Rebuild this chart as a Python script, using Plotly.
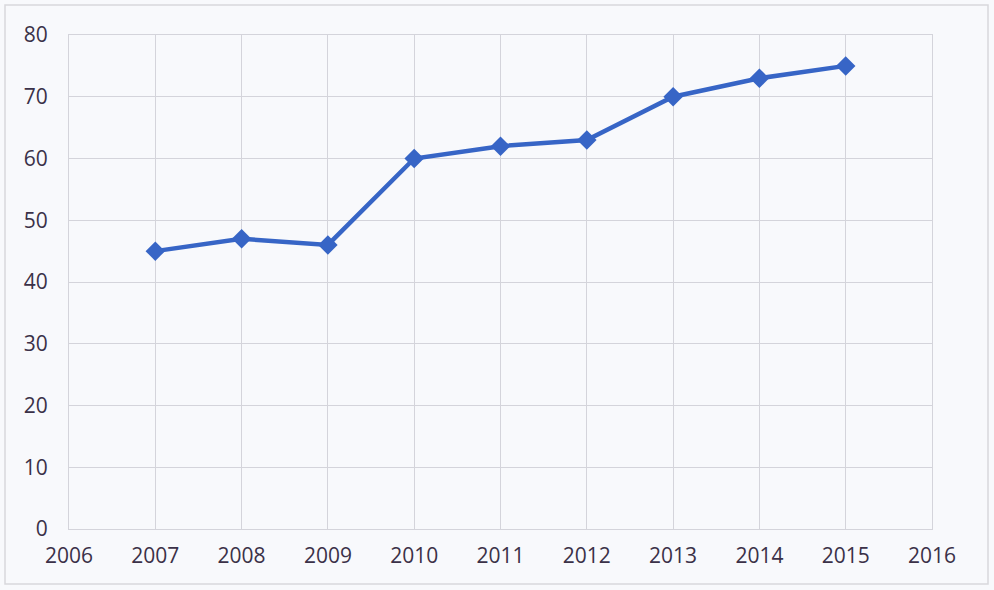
import plotly.graph_objects as go

years = [2007, 2008, 2009, 2010, 2011, 2012, 2013, 2014, 2015]
values = [45, 47, 46, 60, 62, 63, 70, 73, 75]
x_ticks = list(range(2006, 2017))
y_ticks = list(range(0, 81, 10))

L, R, T, B = 69, 62, 35, 61
W, H = 994, 590
pw, ph = W - L - R, H - T - B

fig = go.Figure()
fig.add_trace(go.Scatter(
    x=years, y=values, mode="lines+markers",
    line=dict(color="#3765c6", width=4.5),
    marker=dict(symbol="diamond", size=15, color="#3765c6"),
    cliponaxis=False,
))

font = dict(family="Open Sans, Noto Sans, sans-serif", size=21, color="#3b3148")
fig.update_layout(
    width=W, height=H,
    margin=dict(l=L, r=R, t=T, b=B),
    paper_bgcolor="#f8f9fc", plot_bgcolor="#f8f9fc",
    showlegend=False,
    xaxis=dict(range=[2006, 2016], tickvals=x_ticks, ticktext=[str(v) for v in x_ticks],
               showgrid=True, gridcolor="#d4d4db", gridwidth=1.3, zeroline=False,
               showline=True, linecolor="#d4d4db", linewidth=1.3, mirror=True,
               tickfont=font, ticks="outside", ticklen=8, tickcolor="rgba(0,0,0,0)"),
    yaxis=dict(range=[0, 80], tickvals=y_ticks,
               showgrid=True, gridcolor="#d4d4db", gridwidth=1.3, zeroline=False,
               showline=True, linecolor="#d4d4db", linewidth=1.3, mirror=True,
               tickfont=font, ticks="outside", ticklen=16, tickcolor="rgba(0,0,0,0)"),
)
fig.add_shape(type="rect", xref="paper", yref="paper",
              x0=(5 - L) / pw, x1=(988 - L) / pw,
              y0=(H - B - 584) / ph, y1=(H - B - 5) / ph,
              line=dict(color="#d8d8dc", width=1.5), layer="below")
fig.write_html("out.html")
